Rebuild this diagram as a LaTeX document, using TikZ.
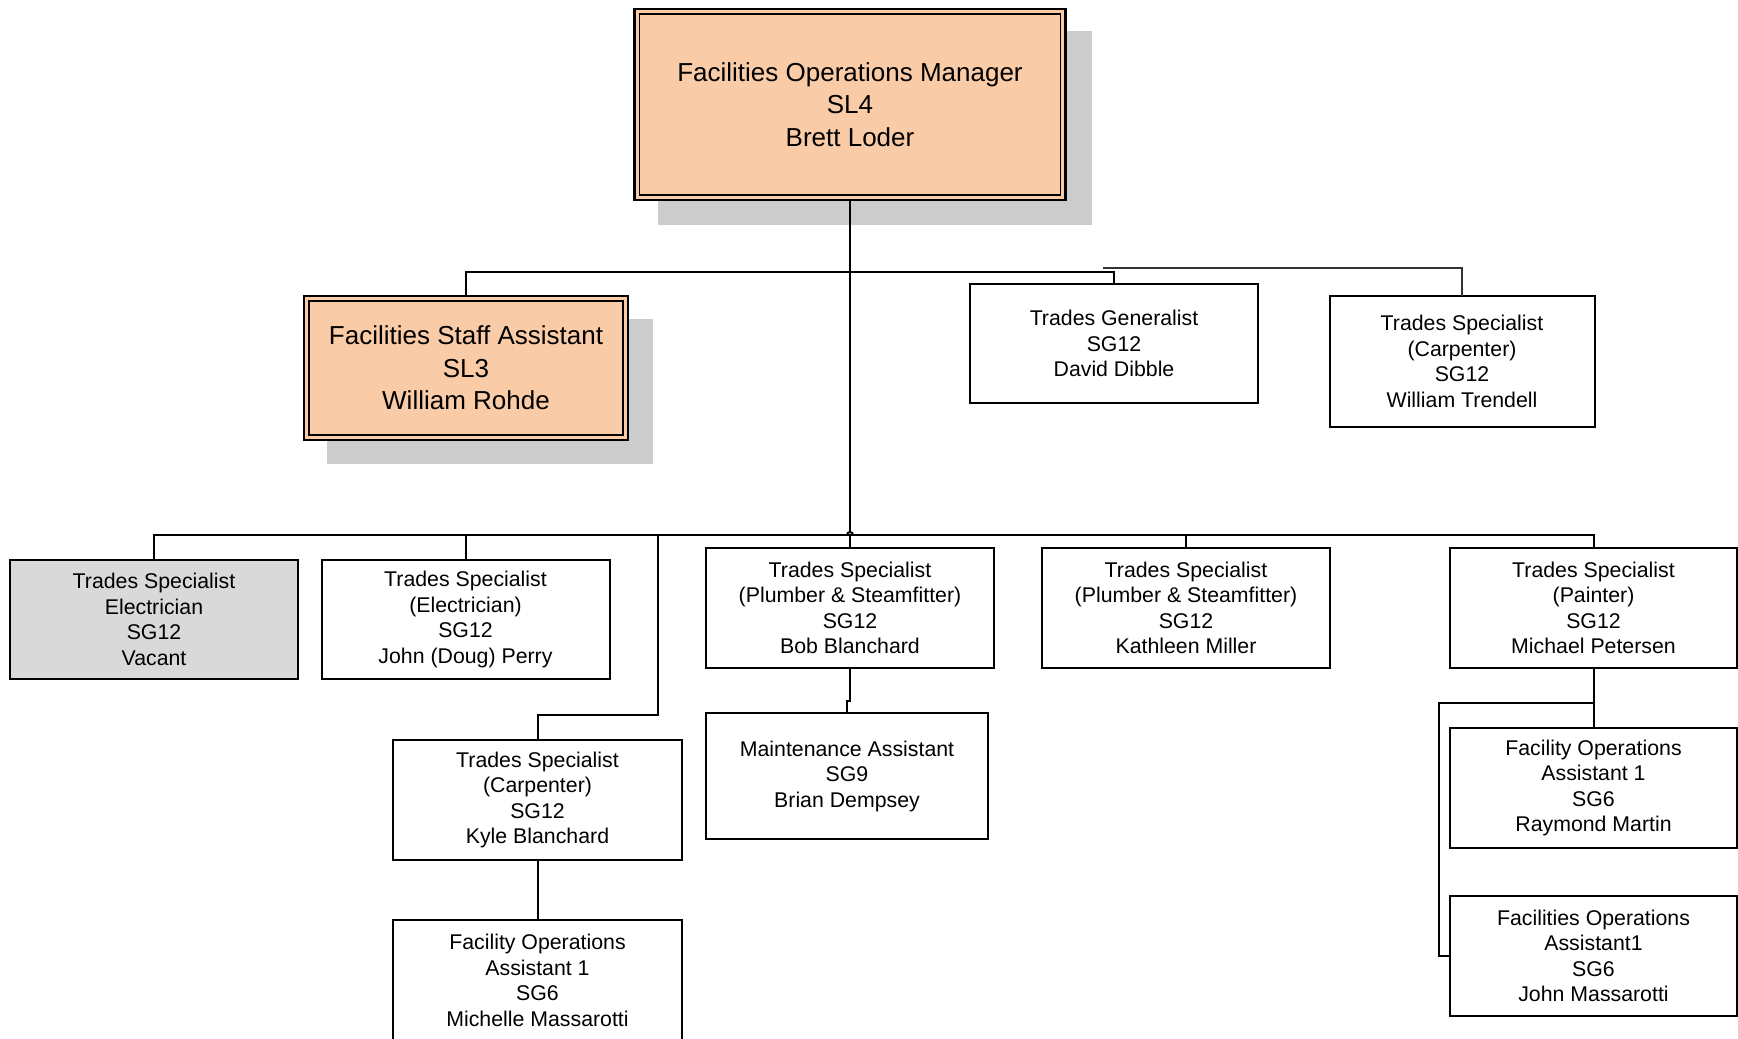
\documentclass[tikz,border=0pt]{standalone}
\usepackage{fontspec}
\setmainfont{Liberation Sans}
\usetikzlibrary{backgrounds}
\definecolor{peach}{HTML}{F9CBA7}
\definecolor{shadowgray}{HTML}{CCCCCC}
\definecolor{vacantgray}{HTML}{D9D9D9}
\begin{document}
\begin{tikzpicture}[x=1pt,y=-1pt,
  box/.style={draw=black, line width=2pt, fill=white, align=center, inner sep=0pt, outer sep=0pt,
    minimum width=288pt, minimum height=120pt, font=\fontsize{21.3}{25.5}\selectfont},
  bigbox/.style={draw=black, line width=2.5pt, fill=peach, align=center, inner sep=0pt, outer sep=0pt,
    font=\fontsize{26}{32.5}\selectfont},
  conn/.style={line width=2pt, draw=black},
  thinconn/.style={line width=1.4pt, draw=black!80},
  innerline/.style={line width=1.5pt, draw=black}
]
\useasboundingbox (0,0) rectangle (1738,1039);

% top level
\node[bigbox, minimum width=431pt, minimum height=191pt] (mgr) at (850,104.5)
  {Facilities Operations Manager\\SL4\\Brett Loder};
\draw[innerline] ([shift={(5,5)}]mgr.north west) rectangle ([shift={(-5,-5)}]mgr.south east);

\node[bigbox, minimum width=324pt, minimum height=144pt] (staff) at (466,368)
  {Facilities Staff Assistant\\SL3\\William Rohde};
\draw[innerline] ([shift={(5,5)}]staff.north west) rectangle ([shift={(-5,-5)}]staff.south east);

\node[box, minimum height=119pt] (gen) at (1114,343.5) {Trades Generalist\\SG12\\David Dibble};
\node[box, minimum width=265pt, minimum height=131pt] (carpT) at (1462,361.5)
  {Trades Specialist\\(Carpenter)\\SG12\\William Trendell};

% bottom row
\node[box, fill=vacantgray, minimum height=119pt] (vac) at (154,619.5)
  {Trades Specialist\\Electrician\\SG12\\Vacant};
\node[box, minimum height=119pt] (perry) at (465.5,619.5)
  {Trades Specialist\\(Electrician)\\SG12\\John (Doug) Perry};
\node[box, minimum width=289pt] (kyle) at (537.5,800)
  {Trades Specialist\\(Carpenter)\\SG12\\Kyle Blanchard};
\node[box, minimum width=289pt, minimum height=121pt] (mich) at (537.5,980.5)
  {Facility Operations\\Assistant 1\\SG6\\Michelle Massarotti};
\node[box] (bob) at (850,608)
  {Trades Specialist\\(Plumber \& Steamfitter)\\SG12\\Bob Blanchard};
\node[box, minimum width=282pt, minimum height=126pt] (maint) at (847,776)
  {Maintenance Assistant\\SG9\\Brian Dempsey};
\node[box] (kath) at (1186,608)
  {Trades Specialist\\(Plumber \& Steamfitter)\\SG12\\Kathleen Miller};
\node[box, minimum width=287pt] (paint) at (1593.5,608)
  {Trades Specialist\\(Painter)\\SG12\\Michael Petersen};
\node[box, minimum width=287pt] (ray) at (1593.5,788)
  {Facility Operations\\Assistant 1\\SG6\\Raymond Martin};
\node[box, minimum width=287pt] (john) at (1593.5,956)
  {Facilities Operations\\Assistant1\\SG6\\John Massarotti};

% shadows
\begin{scope}[on background layer]
\fill[shadowgray] ([shift={(23,22)}]mgr.north west) rectangle ([shift={(26,25)}]mgr.south east);
\fill[shadowgray] ([shift={(23,23)}]staff.north west) rectangle ([shift={(25,24)}]staff.south east);
\end{scope}

% coordinates
\coordinate (bus) at (850,535);
\coordinate (kylebus) at (658,535);
\coordinate (bstart) at (1103,268);

% connectors, upper
\draw[conn] (mgr.south) -- ([yshift=3pt]bus);
\draw[conn] (staff.north) -- ++(0,-24) -| (gen.north);
\draw[thinconn] (bstart) -| (carpT.north);

% connectors, lower bus
\draw[conn] (vac.north) -- ++(0,-25) -| (paint.north);
\draw[conn] ([xshift=-3pt]bus) .. controls +(0,-4) and +(0,-4) .. ([xshift=3pt]bus);
\draw[conn] (perry.north) -- (perry.north |- bus);
\draw[conn] (bob.north) -- (bob.north |- bus);
\draw[conn] (kath.north) -- (kath.north |- bus);
\draw[conn] (kyle.north) -- ++(0,-25) -| (kylebus);
\draw[conn] (kyle.south) -- (mich.north);
\draw[conn] (bob.south) -- ++(0,33) -| (maint.north);
\draw[conn] (paint.south) -- (ray.north);
\draw[conn] (paint.south) ++(0,35) -- ++(-155,0) |- (john.west);
\end{tikzpicture}
\end{document}
